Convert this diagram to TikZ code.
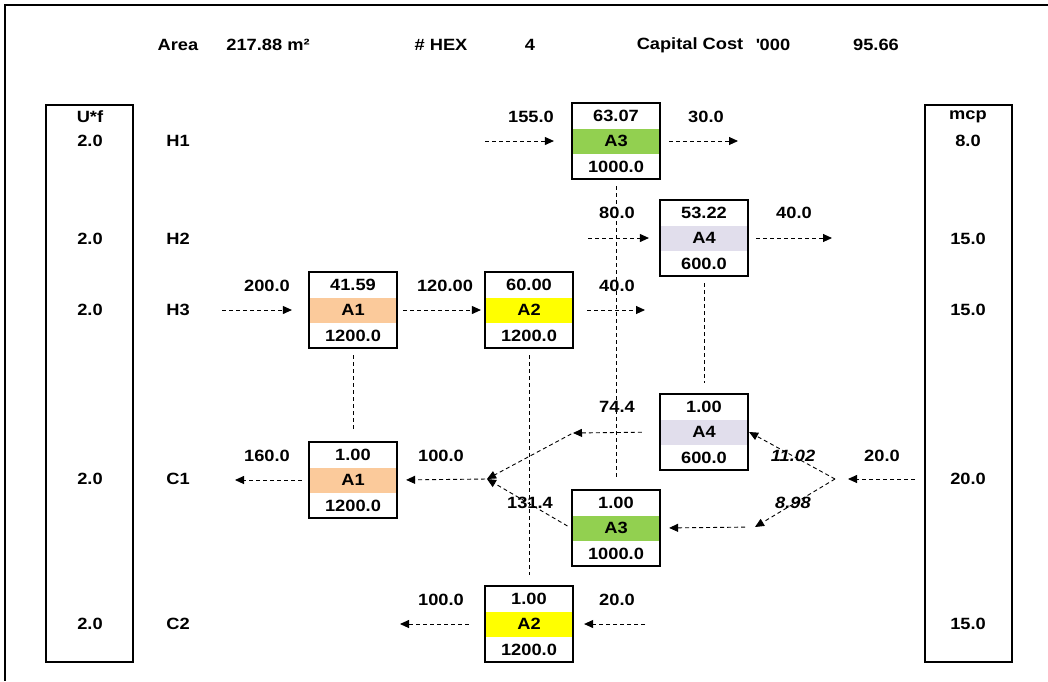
\documentclass[tikz,border=0pt]{standalone}
\usepackage{fontspec}
\setmainfont{Liberation Sans}[FakeStretch=1.12]
\usepackage{xcolor}
\usepackage{tikz}
\usetikzlibrary{arrows.meta,positioning,fit}
\definecolor{hexgreen}{HTML}{92D050}
\definecolor{hexlilac}{HTML}{E1DEEC}
\definecolor{hexpeach}{HTML}{FBCA9B}
\definecolor{hexyellow}{HTML}{FFFF00}
\tikzset{
  hexcell/.style={
    rectangle,
    minimum width=88pt,
    minimum height=25pt,
    inner sep=0pt,
    font=\bfseries
  },
  hexbox/.style={draw, line width=1.8pt, inner sep=0pt},
  utilcol/.style={draw, line width=1.8pt, minimum width=87pt, minimum height=557pt, inner sep=0pt},
  plaintext/.style={font=\bfseries, inner sep=0pt},
  splittext/.style={font=\bfseries\itshape, inner sep=0pt},
  streamarrow/.style={line width=0.9pt, dash pattern=on 4pt off 3pt, -{Triangle[length=9pt,width=8pt]}},
  matchline/.style={line width=0.9pt, dash pattern=on 4pt off 3pt, shorten <=6pt, shorten >=10pt}
}

\begin{document}
\fontsize{16.3}{19}\selectfont
\begin{tikzpicture}[x=1pt, y=-1pt]
\useasboundingbox (0,0) rectangle (1048,681);
\draw[line width=1.2pt] (1048,5) -- (5,5) -- (5,681);
\node[plaintext] (area) at (178,45) {Area};
\node[plaintext] (areaval) at (268,45) {217.88 m²};
\node[plaintext] (nhex) at (441,45) {\# HEX};
\node[plaintext] (nhexval) at (530,45) {4};
\node[plaintext] (capcost) at (690,45) {Capital Cost};
\node[plaintext] (capunit) at (773,45) {\textquotesingle 000};
\node[plaintext] (capval) at (876,45) {95.66};
\node[utilcol] (ufcol) at (89.5,383.5) {};
\node[utilcol] (mcpcol) at (968.5,383.5) {};
\node[plaintext] (ufhead) at (90,117) {U*f};
\node[plaintext] (ufh1) at (90,141) {2.0};
\node[plaintext] (ufh2) at (90,239) {2.0};
\node[plaintext] (ufh3) at (90,310) {2.0};
\node[plaintext] (ufc1) at (90,479) {2.0};
\node[plaintext] (ufc2) at (90,624) {2.0};
\node[plaintext] (mcphead) at (968,117) {mcp};
\node[plaintext] (mcph1) at (968,141) {8.0};
\node[plaintext] (mcph2) at (968,239) {15.0};
\node[plaintext] (mcph3) at (968,310) {15.0};
\node[plaintext] (mcpc1) at (968,479) {20.0};
\node[plaintext] (mcpc2) at (968,624) {15.0};
\node[plaintext] (h1) at (178,141) {H1};
\node[plaintext] (h2) at (178,239) {H2};
\node[plaintext] (h3) at (178,310) {H3};
\node[plaintext] (c1) at (178,479) {C1};
\node[plaintext] (c2) at (178,624) {C2};
\node[hexcell, fill=hexgreen] (a3hmid) at (616,141) {A3};
\node[hexcell, above=0pt of a3hmid] (a3htop) {63.07};
\node[hexcell, below=0pt of a3hmid] (a3hbot) {1000.0};
\node[hexbox, fit=(a3htop)(a3hbot)] (a3hot) {};
\node[hexcell, fill=hexlilac] (a4hmid) at (704,238) {A4};
\node[hexcell, above=0pt of a4hmid] (a4htop) {53.22};
\node[hexcell, below=0pt of a4hmid] (a4hbot) {600.0};
\node[hexbox, fit=(a4htop)(a4hbot)] (a4hot) {};
\node[hexcell, fill=hexpeach] (a1hmid) at (353,310) {A1};
\node[hexcell, above=0pt of a1hmid] (a1htop) {41.59};
\node[hexcell, below=0pt of a1hmid] (a1hbot) {1200.0};
\node[hexbox, fit=(a1htop)(a1hbot)] (a1hot) {};
\node[hexcell, fill=hexyellow] (a2hmid) at (529,310) {A2};
\node[hexcell, above=0pt of a2hmid] (a2htop) {60.00};
\node[hexcell, below=0pt of a2hmid] (a2hbot) {1200.0};
\node[hexbox, fit=(a2htop)(a2hbot)] (a2hot) {};
\node[hexcell, fill=hexlilac] (a4cmid) at (704,432) {A4};
\node[hexcell, above=0pt of a4cmid] (a4ctop) {1.00};
\node[hexcell, below=0pt of a4cmid] (a4cbot) {600.0};
\node[hexbox, fit=(a4ctop)(a4cbot)] (a4cold) {};
\node[hexcell, fill=hexpeach] (a1cmid) at (353,480) {A1};
\node[hexcell, above=0pt of a1cmid] (a1ctop) {1.00};
\node[hexcell, below=0pt of a1cmid] (a1cbot) {1200.0};
\node[hexbox, fit=(a1ctop)(a1cbot)] (a1cold) {};
\node[hexcell, fill=hexgreen] (a3cmid) at (616,528) {A3};
\node[hexcell, above=0pt of a3cmid] (a3ctop) {1.00};
\node[hexcell, below=0pt of a3cmid] (a3cbot) {1000.0};
\node[hexbox, fit=(a3ctop)(a3cbot)] (a3cold) {};
\node[hexcell, fill=hexyellow] (a2cmid) at (529,624) {A2};
\node[hexcell, above=0pt of a2cmid] (a2ctop) {1.00};
\node[hexcell, below=0pt of a2cmid] (a2cbot) {1200.0};
\node[hexbox, fit=(a2ctop)(a2cbot)] (a2cold) {};
\node[plaintext] (h1inval) at (531,117) {155.0};
\node[plaintext] (h1outval) at (706,117) {30.0};
\node[plaintext] (h2inval) at (617,213) {80.0};
\node[plaintext] (h2outval) at (794,213) {40.0};
\node[plaintext] (h3inval) at (267,286) {200.0};
\node[plaintext] (a1a2val) at (445,286) {120.00};
\node[plaintext] (h3outval) at (617,286) {40.0};
\node[plaintext] (a4outval) at (617,407) {74.4};
\node[plaintext] (c1outval) at (267,456) {160.0};
\node[plaintext] (a1inval) at (441,456) {100.0};
\node[plaintext] (c1inval) at (882,456) {20.0};
\node[splittext] (toa4val) at (793,456) {11.02};
\node[splittext] (toa3val) at (793,503) {8.98};
\node[plaintext] (a3outval) at (530,503) {131.4};
\node[plaintext] (c2outval) at (441,600) {100.0};
\node[plaintext] (c2inval) at (617,600) {20.0};
\coordinate (h1in) at (485,141);
\coordinate (h1out) at (738,141);
\coordinate (h2in) at (588,238);
\coordinate (h2out) at (832,238);
\coordinate (h3in) at (222,310);
\coordinate (h3out) at (645,310);
\coordinate (c1in) at (915,479);
\coordinate (c1split) at (835,479);
\coordinate (c1low) at (755,527);
\coordinate (a4out) at (573,433);
\coordinate (c1mix) at (487,479);
\coordinate (c1out) at (235,480);
\coordinate (c2in) at (645,624);
\coordinate (c2out) at (400,624);
\draw[matchline] (a3hot) -- (a3cold);
\draw[matchline] (a4hot) -- (a4cold);
\draw[matchline] (a1hot) -- (a1cold);
\draw[matchline] (a2hot) -- (a2cold);
\draw[streamarrow, shorten >=17pt] (h1in) -- (a3hot.west);
\draw[streamarrow, shorten <=8pt] (a3hot.east) -- (h1out);
\draw[streamarrow, shorten >=10pt] (h2in) -- (a4hot.west);
\draw[streamarrow, shorten <=7pt] (a4hot.east) -- (h2out);
\draw[streamarrow, shorten >=16pt] (h3in) -- (a1hot.west);
\draw[streamarrow, shorten <=5pt, shorten >=3pt] (a1hot.east) -- (a2hot.west);
\draw[streamarrow, shorten <=13pt] (a2hot.east) -- (h3out);
\draw[streamarrow, shorten >=13pt] (c1in) -- (c1split);
\draw[streamarrow] (c1split) -- (a4cold.east);
\draw[streamarrow] (c1split) -- (c1low);
\draw[streamarrow, shorten <=10pt, shorten >=8pt] (c1low) -- (a3cold.east);
\draw[streamarrow, shorten <=17pt] (a4cold.west) -- (a4out);
\draw[streamarrow, shorten <=2pt] (a4out) -- (c1mix);
\draw[streamarrow, shorten <=4pt] (a3cold.west) -- (c1mix);
\draw[streamarrow, shorten <=2pt, shorten >=8pt] (c1mix) -- (a1cold.east);
\draw[streamarrow, shorten <=6pt] (a1cold.west) -- (c1out);
\draw[streamarrow, shorten >=10pt] (c2in) -- (a2cold.east);
\draw[streamarrow, shorten <=15pt] (a2cold.west) -- (c2out);
\end{tikzpicture}
\end{document}
